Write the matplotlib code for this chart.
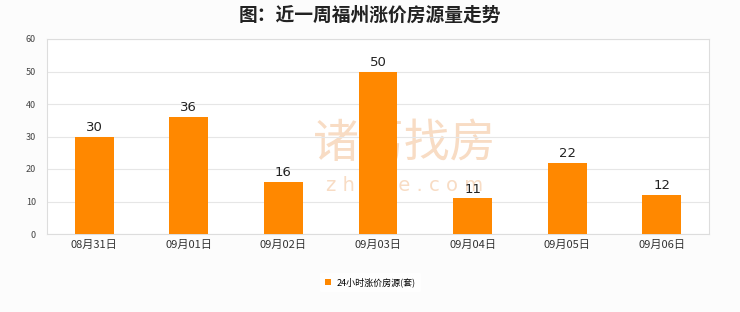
import matplotlib
matplotlib.use('Agg')
import matplotlib.pyplot as plt

plt.rcParams['font.family'] = ['Noto Sans CJK SC', 'DejaVu Sans']

dates = ['08月31日', '09月01日', '09月02日', '09月03日', '09月04日', '09月05日', '09月06日']
counts = [30, 36, 16, 50, 11, 22, 12]
series_name = '24小时涨价房源(套)'
title = '图：近一周福州涨价房源量走势'

fig = plt.figure(figsize=(7.4, 3.12), dpi=100, facecolor='#fcfcfc')
ax = fig.add_axes([47 / 740, 1 - 234 / 312, 662 / 740, 195 / 312])
ax.set_facecolor('white')

x = list(range(len(dates)))
bars = ax.bar(x, counts, width=0.41, color='#ff8800', zorder=3, label=series_name)
for xi, v in zip(x, counts):
    ax.text(xi, v + 0.8, str(v), ha='center', va='bottom', fontsize=9.5,
            color='#222222', family='DejaVu Sans', zorder=4)

# watermark behind the bars
ax.text(0.54, 0.465, '诸葛找房', transform=ax.transAxes, ha='center', va='center',
        fontsize=33, color='#f8dcc4', zorder=1)
ax.text(0.54, 0.25, 'z h u g e . c o m', transform=ax.transAxes, ha='center', va='center',
        fontsize=14, color='#f8dcc4', zorder=1, family='DejaVu Sans')

ax.set_xlim(-0.5, 6.5)
ax.set_ylim(0, 60)
ax.set_yticks(range(0, 61, 10))
ax.set_xticks(x)
ax.set_xticklabels(dates, fontsize=8, color='#333333')
ax.tick_params(axis='y', labelsize=6.5, colors='#444444', length=0, pad=8)
ax.tick_params(axis='x', length=0, pad=4)
ax.grid(axis='y', color='#e6e6e6', linewidth=0.8, zorder=0)
for s in ax.spines.values():
    s.set_color('#dddddd')
    s.set_linewidth(0.8)

fig.text(0.5, 1 - 15 / 312, title, ha='center', va='center', fontsize=13.5,
         fontweight='bold', color='#222222')

leg = fig.legend(handles=[bars], labels=[series_name], loc='center',
                 bbox_to_anchor=(0.5, 1 - 282 / 312), fontsize=6.5,
                 frameon=True, handlelength=0.7, handleheight=0.7,
                 handletextpad=0.6, borderpad=0.5)
leg.get_frame().set_edgecolor('white')
leg.get_frame().set_facecolor('white')

fig.savefig('out.png', dpi=100, facecolor=fig.get_facecolor())
